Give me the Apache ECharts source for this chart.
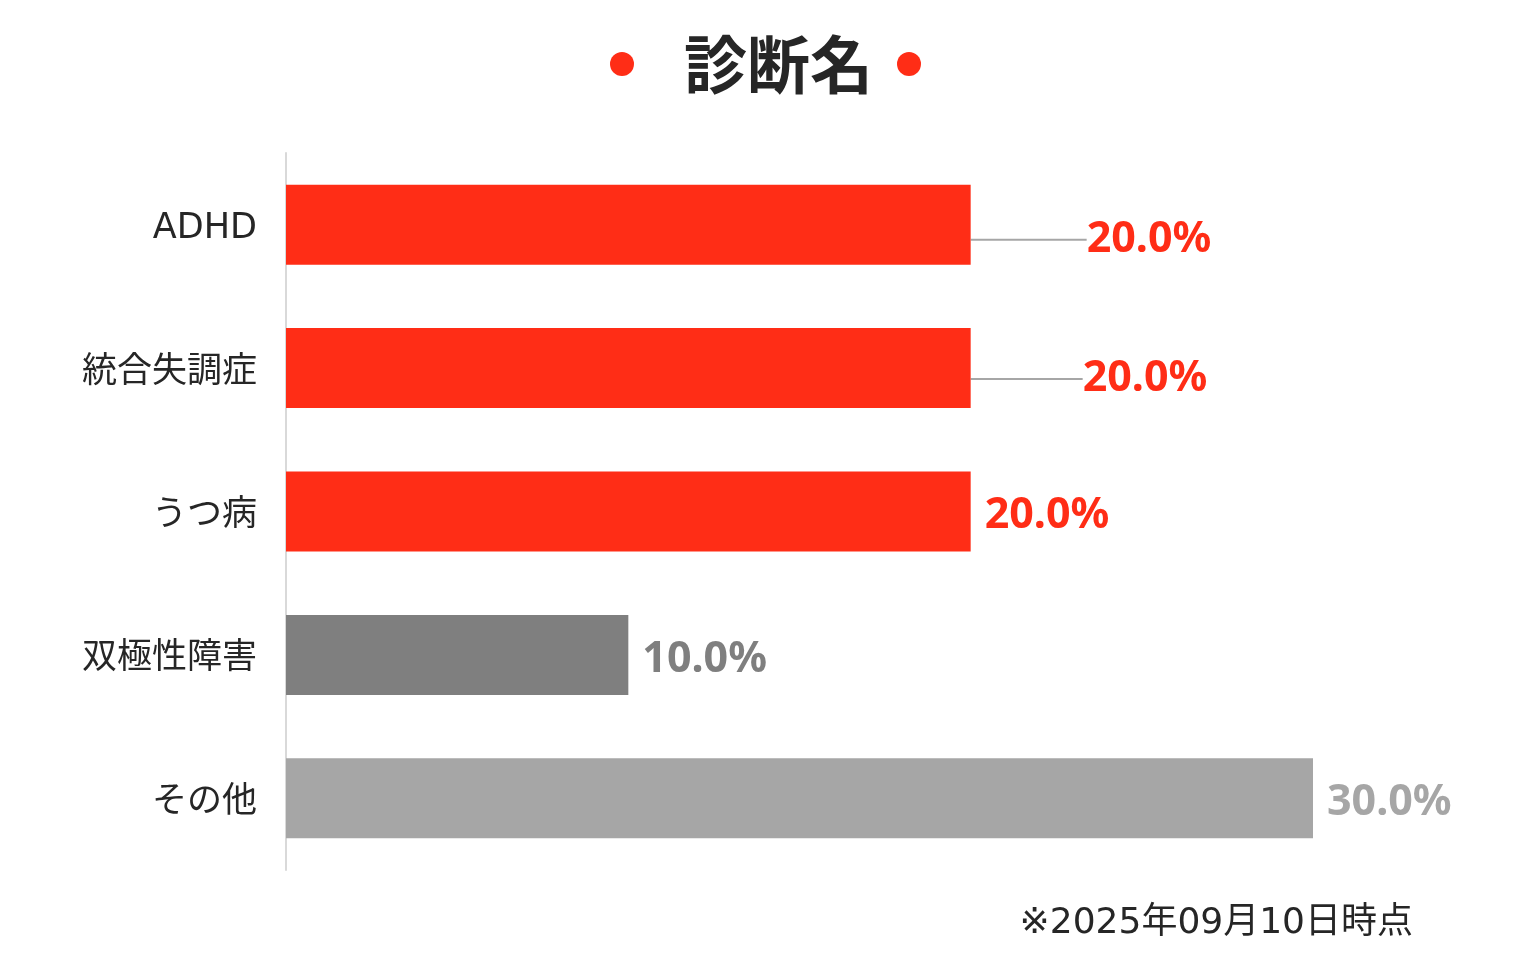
<!DOCTYPE html>
<html><head><meta charset="utf-8">
<script src="https://cdn.jsdelivr.net/npm/echarts@6/dist/echarts.min.js"></script>
<style>html,body{margin:0;padding:0;background:#fff}#c{width:1523px;height:960px}</style>
</head><body><div id="c"></div>
<script>
const title = '診断名';
const note = '※2025年09月10日時点';
const categories = ['ADHD', '統合失調症', 'うつ病', '双極性障害', 'その他'];
const values = [20.0, 20.0, 20.0, 10.0, 30.0];
const colors = ['#FF2D16', '#FF2D16', '#FF2D16', '#7F7F7F', '#A6A6A6'];
const labelShift = [[102, 15], [98, 11], [0, 4], [0, 5], [0, 4]];
const showLeader = [true, true, false, false, false];

const chart = echarts.init(document.getElementById('c'));
chart.setOption({
  animation: false,
  textStyle: {fontFamily: '"Noto Sans CJK JP", "Noto Sans", sans-serif'},
  title: {
    text: title, left: 679, top: 28,
    textStyle: {fontSize: 63, fontWeight: 'bold', color: '#262626', fontFamily: '"Noto Sans CJK JP", sans-serif'}
  },
  graphic: [
    {type: 'circle', shape: {cx: 622, cy: 64, r: 12}, style: {fill: '#FF2D16'}},
    {type: 'circle', shape: {cx: 909, cy: 64, r: 12}, style: {fill: '#FF2D16'}},
    {type: 'text', right: 110, top: 906, style: {text: note, fontSize: 36, fill: '#262626', fontFamily: '"DejaVu Sans", "Noto Sans CJK JP", sans-serif'}}
  ],
  grid: {left: 286, right: 210, top: 153, bottom: 90, containLabel: false},
  xAxis: {type: 'value', min: 0, max: 30, show: false},
  yAxis: {
    type: 'category', data: categories, inverse: true,
    axisLine: {show: true, lineStyle: {color: '#D9D9D9', width: 2}},
    axisTick: {show: false},
    axisLabel: {
      margin: 29,
      formatter: v => '{a|' + v + '}',
      rich: {a: {fontSize: 35, color: '#262626', padding: [9, 0, 0, 0], fontFamily: '"DejaVu Sans", "Noto Sans CJK JP", sans-serif'}}
    }
  },
  series: [{
    type: 'bar', barWidth: 80,
    data: values.map((v, i) => ({value: v, itemStyle: {color: colors[i]}, label: {color: colors[i]}, labelLine: {show: showLeader[i]}})),
    label: {
      show: true, position: 'right', distance: 14,
      formatter: p => p.value.toFixed(1) + '%',
      fontSize: 43, fontWeight: 'bold', fontFamily: '"Noto Sans", sans-serif'
    },
    labelLine: {lineStyle: {color: '#A6A6A6', width: 2}},
    labelLayout: p => ({dx: labelShift[p.dataIndex][0], dy: labelShift[p.dataIndex][1]})
  }]
});
</script></body></html>
